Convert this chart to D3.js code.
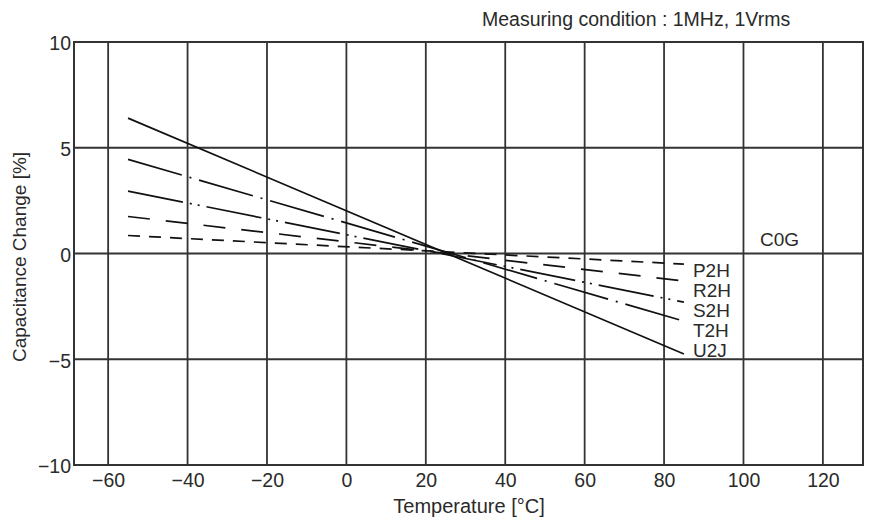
<!DOCTYPE html>
<html>
<head>
<meta charset="utf-8">
<script src="https://cdn.jsdelivr.net/npm/d3@7"></script>
<style>
  body { margin: 0; background: #fff; }
  text { font-family: "Liberation Sans", Arial, sans-serif; fill: #2a2a2a; }
</style>
</head>
<body>
<script>
"use strict";

// data
var temps = [-55, 85];
var u2j = [6.4, -4.75];
var t2h = [4.45, -3.2];
var s2h = [2.95, -2.3];
var r2h = [1.75, -1.3];
var p2h = [0.85, -0.5];
var seriesNames = ["P2H", "R2H", "S2H", "T2H", "U2J"];
var xTicks = [-60, -40, -20, 0, 20, 40, 60, 80, 100, 120];
var yTicks = [-10, -5, 0, 5, 10];

var seriesValues = [p2h, r2h, s2h, t2h, u2j];
var dashes = ["12,9", "22,16", "56,7,2,6,2,7", "56,8,2,8", null];

var margin = {top: 42, right: 14, bottom: 55, left: 74},
    width = 877 - margin.left - margin.right,
    height = 520 - margin.top - margin.bottom;

var svg = d3.select("body").append("svg")
    .attr("width", 877)
    .attr("height", 520);

var view = svg.append("g")
    .attr("transform", "translate(" + margin.left + "," + margin.top + ")");

var xScale = d3.scaleLinear().domain([-68.6, 130.1]).range([0, width]);
var yScale = d3.scaleLinear().domain([-10, 10]).range([height, 0]);

// gridlines
view.append("g").selectAll("line")
    .data(xTicks)
  .join("line")
    .attr("x1", function(d) { return xScale(d); })
    .attr("x2", function(d) { return xScale(d); })
    .attr("y1", 0).attr("y2", height)
    .attr("stroke", "#333").attr("stroke-width", 1.8);

view.append("g").selectAll("line")
    .data(yTicks)
  .join("line")
    .attr("x1", 0).attr("x2", width)
    .attr("y1", function(d) { return yScale(d); })
    .attr("y2", function(d) { return yScale(d); })
    .attr("stroke", "#333").attr("stroke-width", 1.8);

view.append("rect")
    .attr("width", width).attr("height", height)
    .attr("fill", "none").attr("stroke", "#333").attr("stroke-width", 2);

// axes (labels only)
var fmt = function(d) { return d < 0 ? "\u2212" + (-d) : d; };
var xAxis = d3.axisBottom(xScale).tickValues(xTicks).tickSize(0).tickPadding(8).tickFormat(fmt);
var yAxis = d3.axisLeft(yScale).tickValues(yTicks).tickSize(0).tickPadding(3).tickFormat(fmt);

var gX = view.append("g")
    .attr("transform", "translate(0," + height + ")")
    .call(xAxis);
var gY = view.append("g").call(yAxis);
[gX, gY].forEach(function(g) {
  g.select(".domain").remove();
  g.selectAll("text").attr("font-size", 19.5).attr("fill", "#2a2a2a")
    .attr("font-family", "Liberation Sans, Arial, sans-serif");
});
gY.selectAll("text").attr("dy", "0.4em");

// series lines
var line = d3.line()
    .x(function(d, i) { return xScale(temps[i]); })
    .y(function(d) { return yScale(d); });

view.append("g").selectAll("path")
    .data(seriesValues)
  .join("path")
    .attr("d", function(d) { return line(d); })
    .attr("fill", "none")
    .attr("stroke", "#111")
    .attr("stroke-width", 1.7)
    .attr("stroke-dasharray", function(d, i) { return dashes[i]; });

// series labels
svg.append("g").selectAll("text")
    .data(seriesNames)
  .join("text")
    .attr("x", margin.left + xScale(85) + 9)
    .attr("y", function(d, i) { return 277 + i * 20; })
    .attr("font-size", 19)
    .text(function(d) { return d; });

svg.append("text")
    .attr("x", 760).attr("y", 246)
    .attr("font-size", 19)
    .text("C0G");

// titles
svg.append("text")
    .attr("x", 482).attr("y", 26)
    .attr("font-size", 19.5)
    .text("Measuring condition : 1MHz, 1Vrms");

svg.append("text")
    .attr("x", 469).attr("y", 513)
    .attr("text-anchor", "middle")
    .attr("font-size", 20)
    .text("Temperature [\u00B0C]");

svg.append("text")
    .attr("transform", "translate(26,257) rotate(-90)")
    .attr("text-anchor", "middle")
    .attr("font-size", 19)
    .text("Capacitance Change [%]");
</script>
</body>
</html>
